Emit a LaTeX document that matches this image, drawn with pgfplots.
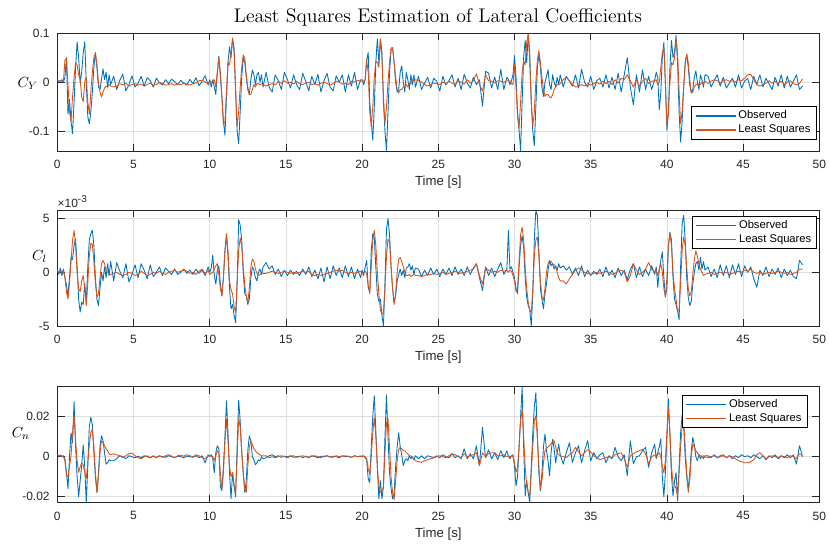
\documentclass[border=0pt]{standalone}
\usepackage{fontspec}
\usepackage{pgfplots}
\usepackage{pgfplotstable}
\pgfplotsset{compat=1.18}
\newfontfamily\arial{Liberation Sans}
\definecolor{mblue}{rgb}{0,0.447,0.741}
\definecolor{morange}{rgb}{0.850,0.325,0.098}
\definecolor{axgray}{rgb}{0.15,0.15,0.15}
\definecolor{gridgray}{HTML}{DFDFDF}

% C_Y in units of 0.01
\pgfplotstableread{
t o l
0.0 -0.5 0.3
0.1 0.3 0.2
0.2 0.2 0.3
0.3 0.5 0.2
0.4 0.0 0.1
0.5 1.0 4.5
0.6 5.0 4.8
0.7 -6.5 -0.5
0.8 -3.5 -6
0.9 -8 -8
1.0 -10.5 -3
1.1 -4 1
1.2 3 4
1.3 8.2 3.5
1.4 5 1.5
1.5 0 0.5
1.6 2 -3
1.7 6 -4
1.8 8.2 0
1.9 0 1
2.0 -7 -4
2.1 -8.5 -6.5
2.2 -6 -2
2.3 -2 2
2.4 3 5
2.5 6 6
2.6 3 3.5
2.7 -1 0
2.8 -1.5 -2
2.9 0.5 -3
3.0 2.7 -2
3.1 0.5 -1.2
3.2 2 -0.8
3.3 -1 -1
3.4 1.5 -0.5
3.5 -0.5 -0.8
3.7 1.2 -1.0
3.9 -1.5 -0.8
4.1 0.4 -0.3
4.3 1.6 -0.6
4.5 -1.8 -0.2
4.7 -0.5 -0.8
4.9 1.3 -0.5
5.1 -1.0 -0.3
5.3 -0.2 -0.6
5.5 1.2 -0.4
5.7 -0.8 -0.8
5.9 0.9 -0.5
6.1 0.3 -0.2
6.3 -1.0 -0.6
6.5 0.8 -0.5
6.7 -0.1 0.0
6.9 -0.6 -0.3
7.1 0.5 -0.6
7.3 -0.3 -0.5
7.5 0.6 -0.3
7.7 0.1 -0.6
7.9 -0.5 -0.4
8.1 0.4 -0.5
8.3 -0.2 -0.2
8.5 -0.6 -0.4
8.7 0.6 -0.6
8.9 -0.3 -0.3
9.1 0.9 -0.2
9.3 -0.7 0.3
9.5 0.2 0.4
9.7 1.3 0.0
9.9 -0.6 -0.3
10.0 0.5 0.2
10.1 -1 0
10.2 0.5 0.3
10.3 -1 0.5
10.4 -2.5 -1
10.5 2 2
10.6 5.3 5
10.7 1 2
10.8 -3 -3
10.9 -8 -8.5
11.0 -10.8 -8
11.1 -3 -2
11.2 4 4
11.3 7.2 3.5
11.4 5 6
11.5 8.8 9
11.6 7 6
11.7 -2 -1.5
11.8 -10 -9
11.9 -12.5 -6
12.0 -6 -1
12.1 1 3
12.2 5 5.5
12.3 4 5
12.4 1 1.5
12.5 -1.5 -1
12.6 -2.5 -2.5
12.7 0.5 -2.5
12.8 2.5 -1.5
12.9 1.5 -0.5
13.0 -0.5 -1
13.1 1.5 -0.3
13.2 2 -0.3
13.3 0 -0.5
13.4 1.5 -0.3
13.5 -1 -0.5
13.7 2.0 -0.8
13.9 -1.0 -0.5
14.1 -2.0 -0.3
14.3 1.5 -0.6
14.5 0.3 0.2
14.7 -1.5 -0.2
14.9 2.0 0.3
15.1 0.5 -0.2
15.3 -1.2 0.0
15.5 1.5 -0.4
15.7 -0.5 0.2
15.9 -1.5 -0.3
16.1 1.8 -0.5
16.3 0.2 -0.2
16.5 -1.8 0.0
16.7 1.2 -0.5
16.9 -0.5 -0.3
17.1 1.6 -0.6
17.3 -2.0 -0.2
17.5 0.3 0.0
17.7 1.8 -0.3
17.9 -1.0 -0.6
18.1 -1.8 -0.3
18.3 1.3 0.2
18.5 0.0 0.0
18.7 1.5 -0.4
18.9 -2.0 -0.2
19.1 1.5 -0.5
19.3 -0.8 0.2
19.5 2.0 0.0
19.7 -1.5 0.4
19.9 0.5 0.2
20.0 0.5 0.3
20.1 -0.5 0.2
20.2 0.5 0.5
20.3 4.5 4.5
20.4 6 2
20.5 -4 -6
20.6 -8 -9
20.7 -11.8 -5
20.8 -5 1
20.9 4 4.3
21.0 8.8 4
21.1 4 3
21.2 8.8 8.8
21.3 6 5
21.4 -4 -3
21.5 -10 -8.4
21.6 -13.9 -5
21.7 -6 0
21.8 2 4
21.9 6.5 7
22.0 7 7
22.1 4 4
22.2 0 1
22.3 -2 -1.5
22.4 -1.5 -2.2
22.5 2 -1.5
22.6 3.3 -1.5
22.7 0 -1
22.8 -2 -1
22.9 2 -0.5
23.0 0.5 -1
23.1 -1.5 -0.3
23.2 1.5 -0.3
23.3 -0.5 0.5
23.4 1.5 0.3
23.5 -1 0.5
23.7 1.2 0.3
23.9 -1.5 0.0
24.1 -0.2 -0.5
24.3 1.0 -0.8
24.5 -1.2 -0.5
24.7 0.8 -0.2
24.9 0.2 -0.3
25.1 -1.8 -0.5
25.3 1.2 0.0
25.5 -0.6 -0.3
25.7 0.3 0.2
25.9 1.5 -0.2
26.1 -1.0 -0.5
26.3 0.8 0.3
26.5 -1.5 0.0
26.7 1.6 -0.4
26.9 -0.2 0.5
27.1 -1.2 -0.2
27.3 1.0 0.3
27.5 -0.5 1.7
27.7 0.5 -0.5
27.9 -4.9 -1.8
28.1 2.2 1.5
28.3 1.8 0.3
28.5 -1.2 0.2
28.7 1.0 -0.2
28.9 -1.5 0.3
29.1 2.6 0.2
29.3 -1.5 0.0
29.5 1.0 0.3
29.6 0.5 0.3
29.7 -0.5 0.3
29.8 0.3 -0.3
29.9 1.5 -0.5
30.0 5.4 3.6
30.1 1 -1
30.2 -6 -7
30.3 -9.8 -9.4
30.4 -13.9 -4
30.5 -4 2
30.6 5 4.3
30.7 8.5 3.5
30.8 4 8
30.9 9.8 9.8
31.0 6 4
31.1 -4 -4
31.2 -10 -9
31.3 -12.9 -6
31.4 -5 0
31.5 3 4.5
31.6 5.7 6.4
31.7 3 4
31.8 -1 1
31.9 -2.9 -1.5
32.0 0 -2.9
32.1 1.2 -2.5
32.2 2.5 -2.5
32.3 -0.5 -3
32.4 -1.5 -3.2
32.5 1.5 -2.5
32.6 0 -1.5
32.7 -1 -1
32.8 1 -0.5
32.9 -0.5 -0.5
33.0 1.5 -0.3
33.2 -1.0 0.5
33.4 1.2 1.0
33.6 0.2 0.3
33.8 -0.8 -0.5
34.0 1.5 -1.0
34.2 -1.2 -0.8
34.4 2.6 -0.5
34.6 0.0 -0.8
34.8 -1.0 -0.3
35.0 1.2 -0.6
35.2 -1.5 -0.3
35.4 0.3 0.0
35.6 0.8 -0.4
35.8 -1.0 0.2
36.0 1.5 -0.3
36.2 -1.2 0.2
36.4 1.0 -0.5
36.6 -1.5 0.5
36.8 1.8 -0.2
37.0 -2.0 0.8
37.2 1.5 0.5
37.4 5.0 1.5
37.6 -1.0 0.3
37.8 -4.6 -1.0
38.0 1.5 0.5
38.2 -2.0 -0.8
38.4 2.5 0.2
38.6 -1.5 0.8
38.8 1.2 -0.3
39.0 -1.5 0.2
39.2 0.5 0.3
39.3 2 0.5
39.4 1 -0.5
39.5 -5.6 0
39.6 -2 3
39.7 5 6
39.8 8.1 7
39.9 0 0
40.0 -9.8 -8.7
40.1 -6 -6
40.2 3 0
40.3 8.5 4
40.4 5 3.5
40.5 6 5
40.6 9.5 8.8
40.7 4 6
40.8 -6 -2
40.9 -12.2 -8.4
41.0 -8 -6
41.1 -1 -1
41.2 4 3.5
41.3 5.7 5.7
41.4 3 4
41.5 -0.5 0.5
41.6 -2.2 -2.2
41.7 -1.5 -2
41.8 1 -1
41.9 2.3 -0.5
42.0 0 -0.5
42.1 -1.5 -0.3
42.2 1.5 -0.5
42.3 0.5 0
42.4 -1 -0.3
42.5 1.5 0.2
42.7 1.2 -0.3
42.9 -1.0 0.2
43.1 0.3 0.5
43.3 1.5 0.3
43.5 -0.8 -0.2
43.7 1.0 0.3
43.9 -1.2 0.5
44.1 -0.2 0.2
44.3 0.8 0.3
44.5 -1.0 0.0
44.7 1.5 0.5
44.9 -1.2 0.3
45.1 0.2 0.8
45.3 0.8 1.5
45.5 -1.5 1.6
45.7 1.2 0.5
45.9 -0.5 -0.5
46.1 1.5 -0.8
46.3 -1.0 -0.6
46.5 0.8 -0.2
46.7 -0.3 0.3
46.9 -1.5 -0.2
47.1 1.0 0.2
47.3 -0.8 -0.3
47.5 1.5 0.2
47.7 -1.2 -0.5
47.9 1.2 0.0
48.1 -1.0 0.3
48.3 0.2 -0.3
48.5 1.5 -0.5
48.7 -1.5 -0.3
48.9 -0.8 0.7
}\tabY

% C_l in units of 1e-3
\pgfplotstableread{
t o l
0.0 0.3 0.1
0.1 -0.2 0.0
0.2 0.4 0.1
0.3 -0.3 0.0
0.4 0.3 0.2
0.5 -0.5 -0.5
0.6 -1.2 -1.8
0.7 -2.2 -2.5
0.8 -0.5 -1.0
0.9 1.4 1.0
1.0 1.2 3.0
1.1 2.5 3.9
1.2 3.1 2.5
1.3 0.5 0.0
1.4 -2.5 -1.5
1.5 -3.7 -1.8
1.6 -2.8 -0.8
1.7 -3.0 -0.3
1.8 -1.0 -1.5
1.9 -2.8 -3.1
2.0 0.5 -1.0
2.1 3.0 1.5
2.2 3.6 2.7
2.3 3.9 2.6
2.4 2.5 1.0
2.5 -0.5 -1.0
2.6 -2.5 -2.3
2.7 -3.1 -2.0
2.8 -1.5 -0.5
2.9 0.0 0.8
3.0 -0.8 1.1
3.1 0.5 0.8
3.2 -0.5 0.2
3.3 0.8 0.0
3.4 -0.3 -0.2
3.5 1.0 -0.2
3.7 -0.8 -0.1
3.9 0.9 0.0
4.1 0.1 -0.2
4.3 -0.5 -0.3
4.5 0.8 -0.2
4.7 -0.9 0.0
4.9 -0.2 -0.1
5.1 0.7 -0.3
5.3 -0.5 -0.2
5.5 0.8 0.1
5.7 0.2 -0.1
5.9 -0.6 -0.3
6.1 0.7 -0.2
6.3 -0.4 0.0
6.5 0.0 -0.1
6.7 0.5 0.1
6.9 -0.3 -0.1
7.1 0.4 -0.2
7.3 0.1 0.0
7.5 -0.2 0.1
7.7 0.3 0.2
7.9 -0.2 0.0
8.1 0.0 0.1
8.3 0.3 0.2
8.5 -0.1 0.1
8.7 0.2 -0.1
8.9 -0.2 0.0
9.1 0.3 -0.2
9.3 -0.1 0.1
9.5 0.2 0.3
9.7 -0.3 -0.1
9.9 0.5 0.2
10.0 0.0 -0.2
10.1 0.4 -0.1
10.2 1.6 0.0
10.3 -0.3 0.3
10.4 -1.1 0.6
10.5 0.2 0.8
10.6 0.6 -0.2
10.7 -1.0 -1.5
10.8 -2.2 -2.2
10.9 -0.5 -0.5
11.0 2.0 2.0
11.1 3.4 3.6
11.2 1.5 2.0
11.3 -1.5 -0.8
11.4 -3.4 -1.6
11.5 -3.0 -2.0
11.6 -4.0 -3.2
11.7 -4.7 -3.75
11.8 -1.0 -1.0
11.9 4.9 2.0
12.0 4.4 3.2
12.1 3.0 2.5
12.2 0.0 0.5
12.3 -2.0 -1.2
12.4 -2.2 -2.2
12.5 -3.0 -2.8
12.6 -2.5 -1.5
12.7 -0.5 0.5
12.8 0.5 1.25
12.9 0.2 1.0
13.0 -0.5 0.3
13.1 -0.8 -0.1
13.2 0.0 -0.3
13.3 0.3 -0.2
13.4 -0.2 -0.1
13.5 0.5 -0.1
13.7 0.9 -0.1
13.9 0.3 0.0
14.1 0.6 0.1
14.3 -0.2 0.0
14.5 0.3 -0.1
14.7 -0.4 0.0
14.9 0.2 0.1
15.1 -0.3 0.0
15.3 0.2 -0.1
15.5 -0.2 0.0
15.7 0.1 -0.1
15.9 -0.3 0.0
16.1 0.3 0.1
16.3 -0.2 0.0
16.5 0.5 0.1
16.7 -0.4 -0.2
16.9 0.2 -0.3
17.1 -0.6 -0.2
17.3 0.4 -0.3
17.5 -0.9 -0.2
17.7 0.5 -0.1
17.9 -0.6 0.0
18.1 0.6 0.1
18.3 -0.3 0.2
18.5 0.4 0.1
18.7 -0.5 0.2
18.9 0.6 0.0
19.1 -0.4 -0.1
19.3 0.5 0.0
19.5 -0.6 -0.1
19.7 0.3 0.0
19.9 -0.5 0.1
20.0 0.2 0.0
20.1 -0.3 0.0
20.2 0.5 0.1
20.3 1.1 -0.2
20.4 -1.4 -1.2
20.5 -1.8 -2.0
20.6 2.0 0.5
20.7 3.6 3.0
20.8 3.2 3.9
20.9 0.5 2.5
21.0 -2.0 0.0
21.1 -2.7 -2.0
21.2 -2.5 -3.5
21.3 -4.0 -3.9
21.4 -5.0 -3.7
21.5 -1.0 -1.5
21.6 4.0 1.5
21.7 5.0 3.1
21.8 3.5 2.8
21.9 0.5 0.5
22.0 -1.5 -1.5
22.1 -2.8 -3.0
22.2 -2.2 -2.0
22.3 -0.8 0.0
22.4 -0.2 1.2
22.5 0.3 1.4
22.6 -0.3 1.0
22.7 0.2 0.5
22.8 -0.5 0.0
22.9 0.4 -0.3
23.0 0.5 -0.3
23.1 0.8 -0.2
23.2 0.2 -0.4
23.3 0.6 -0.3
23.4 -0.2 -0.2
23.5 0.4 -0.3
23.7 0.3 -0.3
23.9 -0.4 -0.4
24.1 0.2 -0.3
24.3 -0.3 -0.2
24.5 0.4 -0.2
24.7 -0.2 -0.1
24.9 0.3 -0.2
25.1 -0.4 -0.1
25.3 0.3 0.0
25.5 -0.2 -0.2
25.7 0.4 -0.1
25.9 -0.3 0.0
26.1 0.5 0.1
26.3 -0.2 0.0
26.5 0.3 -0.1
26.7 -0.3 0.0
26.9 0.5 0.1
27.1 -0.2 0.2
27.3 0.4 0.3
27.5 0.8 0.8
27.7 -0.5 -0.3
27.9 -1.7 -1.1
28.1 0.5 0.4
28.3 -0.3 0.2
28.5 0.4 0.0
28.7 -0.4 0.1
28.9 0.3 0.0
29.1 0.9 0.2
29.3 -0.2 0.1
29.5 0.3 0.2
29.6 3.9 0.0
29.7 0.3 0.2
29.8 0.5 0.1
29.9 0.0 -0.3
30.0 -0.5 -0.8
30.1 -1.5 -1.8
30.2 -2.0 -1.5
30.3 0.5 1.0
30.4 2.5 3.5
30.5 3.4 4.2
30.6 2.3 3.0
30.7 -0.5 0.5
30.8 -2.3 -1.5
30.9 -3.1 -2.8
31.0 -3.5 -3.5
31.1 -5.0 -3.75
31.2 -2.0 -1.5
31.3 3.0 1.5
31.4 5.8 3.0
31.5 5.3 3.3
31.6 2.0 1.5
31.7 -1.5 -0.8
31.8 -2.5 -2.3
31.9 -3.4 -2.6
32.0 -2.0 -1.5
32.1 -1.1 0.0
32.2 0.2 0.8
32.3 1.1 1.1
32.4 0.6 1.0
32.5 0.8 0.8
32.6 0.3 0.7
32.7 0.6 0.5
32.8 0.2 0.0
32.9 0.8 -0.5
33.0 0.4 -0.8
33.2 0.6 -0.8
33.4 0.2 -1.1
33.6 0.5 -0.6
33.8 -0.2 -0.2
34.0 0.4 0.2
34.2 -0.3 0.4
34.4 0.6 0.2
34.6 -0.4 0.0
34.8 0.2 -0.1
35.0 -0.3 -0.2
35.2 0.1 -0.1
35.4 -0.2 0.0
35.6 0.3 -0.1
35.8 -0.4 0.0
36.0 0.5 0.1
36.2 -0.3 0.0
36.4 0.2 -0.2
36.6 -0.5 -0.1
36.8 0.4 0.1
37.0 -0.3 0.2
37.2 0.2 0.0
37.4 -0.7 -0.9
37.6 0.3 -0.3
37.8 0.8 0.8
38.0 -0.5 0.2
38.2 0.5 -0.2
38.4 -0.4 0.0
38.6 0.3 0.3
38.8 -0.3 0.9
39.0 0.6 0.3
39.2 -0.2 0.0
39.3 0.5 0.2
39.4 -1.4 -0.3
39.5 0.2 0.3
39.6 1.1 0.8
39.7 1.9 0.0
39.8 -0.5 -1.5
39.9 -2.3 -2.3
40.0 -1.5 -0.5
40.1 2.5 2.5
40.2 3.75 3.6
40.3 3.0 2.5
40.4 -0.5 0.0
40.5 -2.5 -1.5
40.6 -3.0 -2.5
40.7 -3.6 -3.6
40.8 -4.4 -3.5
40.9 0.5 -1.0
41.0 4.5 2.0
41.1 5.3 3.3
41.2 3.0 2.5
41.3 -0.5 0.5
41.4 -2.3 -1.5
41.5 -3.1 -2.2
41.6 -2.7 -1.8
41.7 -1.1 -0.2
41.8 0.0 1.25
41.9 0.8 2.0
42.0 1.0 1.5
42.1 0.2 0.8
42.2 1.4 0.3
42.3 0.3 0.0
42.4 1.0 -0.3
42.5 0.2 -0.2
42.7 0.5 -0.1
42.9 -0.4 0.0
43.1 0.3 -0.2
43.3 -0.5 -0.1
43.5 0.7 0.0
43.7 -0.3 -0.1
43.9 0.6 0.0
44.1 -0.5 -0.2
44.3 0.7 -0.1
44.5 -0.2 0.0
44.7 0.8 0.1
44.9 -0.4 0.0
45.1 0.6 0.2
45.3 0.0 0.1
45.5 0.5 0.3
45.7 -0.6 0.0
45.9 -1.4 -0.1
46.1 0.2 0.0
46.3 -0.3 -0.2
46.5 0.5 -0.1
46.7 -0.4 0.0
46.9 0.3 -0.1
47.1 -0.2 0.0
47.3 0.4 0.1
47.5 -0.5 0.0
47.7 0.3 -0.1
47.9 -0.3 0.0
48.1 0.2 -0.2
48.3 -0.4 -0.1
48.5 -0.6 0.0
48.7 1.1 0.3
48.9 0.7 0.3
}\tabL

% C_n in units of 1e-3
\pgfplotstableread{
t o l
0.0 1.0 0.5
0.1 0.5 0.5
0.2 0.8 0.3
0.3 0.0 0.5
0.4 0.5 0.0
0.5 -1.0 -2.0
0.6 -7.8 -9.5
0.7 -16.0 -10.0
0.8 0.0 -5.0
0.9 12.0 0.5
1.0 7.0 12.0
1.1 27.5 20.5
1.2 5.0 8.0
1.3 -10.0 -2.0
1.4 -20.0 -7.8
1.5 -12.0 -5.0
1.6 -4.5 -3.0
1.7 6.0 -4.0
1.8 -5.0 -8.0
1.9 -23.0 -11.0
2.0 -5.0 -3.0
2.1 15.0 6.0
2.2 19.7 12.0
2.3 16.0 13.8
2.4 2.0 5.0
2.5 -10.0 -8.0
2.6 -17.8 -17.8
2.7 -8.0 -10.0
2.8 5.0 2.0
2.9 10.5 8.0
3.0 8.0 7.0
3.1 2.0 5.5
3.2 -3.7 4.0
3.3 -3.0 3.0
3.4 -1.5 1.5
3.5 -2.0 1.0
3.7 -2.0 1.5
3.9 -1.0 1.0
4.1 0.5 0.5
4.3 0.0 -0.5
4.5 -1.0 0.5
4.7 0.5 1.5
4.9 0.0 1.8
5.1 -0.5 0.5
5.3 0.3 -0.5
5.5 -0.5 -1.0
5.7 0.5 0.0
5.9 0.0 0.5
6.1 -0.5 -0.5
6.3 0.3 0.5
6.5 -0.3 -0.5
6.7 0.5 0.3
6.9 0.0 -0.3
7.1 -0.3 0.5
7.3 0.5 1.0
7.5 0.0 0.3
7.7 -0.5 -0.5
7.9 0.3 0.5
8.1 0.0 0.8
8.3 -0.5 0.3
8.5 0.3 1.0
8.7 0.0 0.5
8.9 -0.3 0.0
9.1 0.5 1.0
9.3 -0.5 0.5
9.5 0.5 -0.5
9.7 -3.0 -1.0
9.9 1.0 0.5
10.0 0.0 0.3
10.1 1.0 0.5
10.2 -1.0 0.0
10.3 -8.0 -2.0
10.4 2.0 0.5
10.5 5.5 3.0
10.6 4.0 2.0
10.7 -15.0 -8.0
10.8 -17.0 -16.0
10.9 -5.0 -8.0
11.0 10.0 8.0
11.1 28.0 18.8
11.2 12.0 8.0
11.3 -8.0 -5.0
11.4 -21.0 -10.0
11.5 -8.0 -8.0
11.6 -15.0 -14.0
11.7 -20.0 -17.8
11.8 5.0 0.0
11.9 28.3 19.0
12.0 18.0 15.0
12.1 2.0 3.0
12.2 -8.0 -8.0
12.3 -17.8 -16.0
12.4 -12.0 -17.8
12.5 3.0 -5.0
12.6 10.5 5.0
12.7 8.0 8.0
12.8 0.0 6.0
12.9 -1.5 4.0
13.0 -4.0 3.0
13.1 -3.0 2.0
13.2 -1.5 1.5
13.3 -2.0 1.0
13.4 0.0 0.5
13.5 -1.0 0.5
13.7 -0.5 0.5
13.9 0.5 -0.5
14.1 1.0 0.0
14.3 0.0 -0.5
14.5 0.5 0.0
14.7 -0.3 0.5
14.9 0.3 0.0
15.1 0.0 -0.5
15.3 0.5 0.3
15.5 -0.3 0.5
15.7 0.0 -0.3
15.9 0.3 0.0
16.1 -0.5 0.5
16.3 0.3 0.0
16.5 -0.3 -0.5
16.7 0.5 0.3
16.9 0.0 0.5
17.1 -0.5 0.0
17.3 0.3 -0.5
17.5 0.0 0.3
17.7 0.5 0.5
17.9 -0.3 0.0
18.1 0.3 -0.3
18.3 0.0 0.5
18.5 -0.5 0.0
18.7 0.5 0.3
18.9 0.0 0.5
19.1 0.3 0.0
19.3 -0.3 -0.3
19.5 0.5 0.5
19.7 0.0 0.0
19.9 0.3 0.3
20.0 0.0 0.3
20.1 0.5 0.3
20.2 -0.5 0.0
20.3 -1.5 -1.0
20.4 -11.0 -6.0
20.5 -13.0 -8.7
20.6 5.0 0.0
20.7 20.0 12.0
20.8 30.5 19.7
20.9 13.0 10.0
21.0 -5.0 -5.0
21.1 -21.0 -15.0
21.2 -12.0 -17.8
21.3 -21.0 -17.0
21.4 -15.0 -15.0
21.5 10.0 2.0
21.6 31.0 17.0
21.7 10.0 19.0
21.8 -8.0 5.0
21.9 -16.0 -10.0
22.0 -21.0 -18.0
22.1 -18.0 -21.5
22.2 -5.0 -12.0
22.3 5.0 -2.0
22.4 12.0 3.5
22.5 5.0 4.7
22.6 1.0 4.0
22.7 -4.5 3.0
22.8 -2.0 3.0
22.9 -1.0 2.0
23.0 -2.0 1.5
23.1 0.5 0.5
23.2 -1.0 0.5
23.3 0.0 -0.5
23.4 -1.5 -1.0
23.5 0.5 -2.0
23.7 -1.0 -2.5
23.9 0.5 -2.8
24.1 -1.0 -2.0
24.3 0.5 -1.5
24.5 0.0 -1.0
24.7 -0.5 -0.5
24.9 0.5 0.0
25.1 -0.5 0.5
25.3 1.0 0.0
25.5 0.0 -0.5
25.7 -0.5 0.5
25.9 1.5 1.5
26.1 -0.5 1.0
26.3 0.5 0.0
26.5 -1.0 -0.5
26.7 4.0 1.5
26.9 -1.0 0.0
27.1 1.5 0.5
27.3 -1.0 1.0
27.5 5.5 2.0
27.7 -4.5 -4.5
27.9 14.7 2.0
28.1 -0.5 0.0
28.3 3.5 1.5
28.5 -1.0 2.0
28.7 2.0 2.0
28.9 -1.5 0.5
29.1 3.0 0.5
29.3 -0.5 1.0
29.5 3.0 0.0
29.6 0.5 0.5
29.7 -1.0 0.0
29.8 0.5 0.5
29.9 1.0 0.0
30.0 -5.0 -3.0
30.1 -14.5 -7.8
30.2 -10.0 -5.0
30.3 5.0 5.0
30.4 20.0 18.0
30.5 35.0 23.8
30.6 5.0 10.0
30.7 -19.5 -5.0
30.8 -12.0 -14.0
30.9 -18.0 -18.0
31.0 -23.0 -19.5
31.1 -5.0 -8.0
31.2 12.0 5.0
31.3 25.0 18.0
31.4 32.0 20.5
31.5 10.0 10.0
31.6 -8.0 -5.0
31.7 -17.0 -16.0
31.8 -8.0 -12.0
31.9 5.0 -3.0
32.0 11.3 3.0
32.1 3.0 4.0
32.2 -2.0 5.0
32.3 -9.5 5.5
32.4 2.0 6.5
32.5 8.8 7.5
32.6 4.0 8.0
32.7 -3.0 5.0
32.8 2.0 2.0
32.9 6.3 1.0
33.0 1.0 0.5
33.2 -3.7 0.0
33.4 2.0 -0.5
33.6 7.0 1.0
33.8 -2.8 2.0
34.0 2.0 4.7
34.2 5.5 2.5
34.4 -3.0 0.5
34.6 3.0 2.0
34.8 8.0 3.5
35.0 -2.0 2.5
35.2 2.0 0.5
35.4 -1.0 -0.5
35.6 1.0 -1.5
35.8 2.0 -1.0
36.0 -3.0 -0.5
36.2 0.5 0.0
36.4 -1.0 -0.5
36.6 4.7 1.0
36.8 0.0 1.5
37.0 -2.0 2.0
37.2 1.0 -1.0
37.4 -9.5 -5.3
37.6 8.0 0.5
37.8 -3.5 1.5
38.0 0.0 2.5
38.2 0.5 3.0
38.4 3.0 3.8
38.6 4.7 1.5
38.8 -5.3 -3.7
39.0 2.0 0.0
39.2 6.3 1.0
39.3 -1.0 0.0
39.4 2.0 1.0
39.5 5.0 2.0
39.6 9.0 0.0
39.7 -10.0 -5.0
39.8 -20.0 -8.0
39.9 -8.0 -2.0
40.0 10.0 12.0
40.1 29.0 24.7
40.2 10.0 12.0
40.3 -9.5 -5.0
40.4 -19.5 -12.8
40.5 -12.0 -14.0
40.6 -8.0 -16.0
40.7 -22.0 -19.5
40.8 -5.0 -8.0
40.9 12.0 5.0
41.0 21.0 15.0
41.1 16.0 17.0
41.2 0.0 5.0
41.3 -10.0 -8.0
41.4 -16.0 -17.8
41.5 -8.0 -12.0
41.6 3.0 0.0
41.7 9.7 6.3
41.8 6.0 5.0
41.9 0.0 3.0
42.0 -2.0 2.0
42.1 1.0 1.0
42.2 -1.0 0.5
42.3 0.5 0.0
42.4 -1.0 0.5
42.5 0.5 0.0
42.7 0.5 -0.5
42.9 -0.5 0.0
43.1 1.0 0.5
43.3 -0.5 -0.5
43.5 0.5 0.0
43.7 1.0 0.5
43.9 -0.5 -0.5
44.1 0.5 0.5
44.3 -1.0 0.0
44.5 0.5 -1.0
44.7 -0.5 -2.0
44.9 1.0 -2.5
45.1 0.0 -3.0
45.3 0.5 -3.0
45.5 -0.5 -2.5
45.7 1.0 -1.5
45.9 0.0 1.0
46.1 -1.0 2.0
46.3 0.5 0.5
46.5 -1.5 -1.0
46.7 0.5 0.0
46.9 -0.5 0.5
47.1 1.0 0.0
47.3 -1.0 -0.5
47.5 0.5 0.5
47.7 -0.5 0.0
47.9 1.0 -0.5
48.1 -0.5 0.5
48.3 1.0 0.0
48.5 -3.7 -1.0
48.7 5.5 1.5
48.9 0.0 0.5
}\tabN

\pgfplotsset{
  mat/.style={
    scale only axis,
    width=571.5pt,
    xmin=0, xmax=50,
    xtick={0,5,...,50},
    axis line style={axgray, line width=0.5pt},
    tick style={axgray, line width=0.5pt},
    major tick length=5.5pt,
    tick align=inside,
    grid=major,
    major grid style={gridgray, line width=0.5pt},
    clip mode=individual,
    scaled y ticks=false,
    ticklabel style={font=\arial\fontsize{9}{10}\selectfont, text=axgray},
    xticklabel style={yshift=-3.2pt},
    yticklabel style={xshift=-2.2pt},
    /pgf/number format/assume math mode=true,
    xlabel={Time [s]},
    xlabel style={font=\arial\fontsize{9.9}{11}\selectfont, text=axgray,
      at={(axis description cs:0.5,0)}, anchor=center, yshift=-23.6pt},
    legend cell align=left,
    legend style={font=\arial\fontsize{8.4}{10}\selectfont,
      fill=white, inner xsep=2.6pt, inner ysep=1.4pt,
      nodes={inner ysep=1.6pt, inner xsep=1.5pt}},
    legend image code/.code={\draw[line width=1.1pt] (0pt,0pt) -- (30pt,0pt);},
    every axis plot/.append style={line width=0.65pt, line join=round},
  }
}

\begin{document}
\begin{tikzpicture}
\useasboundingbox (0,0) rectangle (621.75pt,410.25pt);
\node[font=\fontsize{14.8}{17}\selectfont] at (328.5pt,397.5pt)
  {Least Squares Estimation of Lateral Coefficients};

\begin{axis}[mat, at={(42.98pt,297pt)}, anchor=south west, height=88.5pt,
  ymin=-0.14, ymax=0.1, ytick={-0.1,0,0.1}, yticklabels={-0.1,0,0.1},
  legend style={at={(0.996,0.10)}, anchor=south east}]
\addplot[mblue, forget plot] table[x=t, y expr=\thisrow{o}/100] {\tabY};
\addplot[morange, forget plot] table[x=t, y expr=\thisrow{l}/100] {\tabY};
\addlegendimage{draw=mblue, line width=1.1pt}
\addlegendentry{Observed}
\addlegendimage{draw=morange, line width=1.1pt}
\addlegendentry{Least Squares}
\node[anchor=east, inner sep=0pt, font=\fontsize{11}{13}\selectfont] at (axis description cs:-0.0253,0.574) {$C_Y$};
\end{axis}

\begin{axis}[mat, name=axl, at={(42.98pt,165.75pt)}, anchor=south west, height=87pt,
  ymin=-5, ymax=5.8, ytick={-5,0,5}, yticklabels={-5,0,5},
  legend style={at={(0.997,0.948)}, anchor=north east}]
\addplot[mblue, forget plot] table[x=t, y expr=\thisrow{o}] {\tabL};
\addplot[morange, forget plot] table[x=t, y expr=\thisrow{l}] {\tabL};
\addlegendimage{draw=mblue, line width=1.1pt}
\addlegendentry{Observed}
\addlegendimage{draw=morange, line width=1.1pt}
\addlegendentry{Least Squares}
\node[anchor=east, inner sep=0pt, font=\fontsize{11}{13}\selectfont] at (axis description cs:-0.0135,0.599) {$C_l$};
\end{axis}
\node[anchor=base west, inner sep=0pt, font=\arial\fontsize{9}{10}\selectfont, yshift=2pt]
  at (axl.north west) {\color{axgray}×10\raisebox{0.42em}{\fontsize{7.5}{8}\selectfont -3}};

\begin{axis}[mat, at={(42.98pt,33.2pt)}, anchor=south west, height=87pt,
  ymin=-0.023, ymax=0.035, ytick={-0.02,0,0.02}, yticklabels={-0.02,0,0.02},
  legend style={at={(0.984,0.928)}, anchor=north east}]
\addplot[mblue, forget plot] table[x=t, y expr=\thisrow{o}/1000] {\tabN};
\addplot[morange, forget plot] table[x=t, y expr=\thisrow{l}/1000] {\tabN};
\addlegendimage{draw=mblue, line width=1.1pt}
\addlegendentry{Observed}
\addlegendimage{draw=morange, line width=1.1pt}
\addlegendentry{Least Squares}
\node[anchor=east, inner sep=0pt, font=\fontsize{11}{13}\selectfont] at (axis description cs:-0.0358,0.597) {$C_n$};
\end{axis}
\end{tikzpicture}
\end{document}
